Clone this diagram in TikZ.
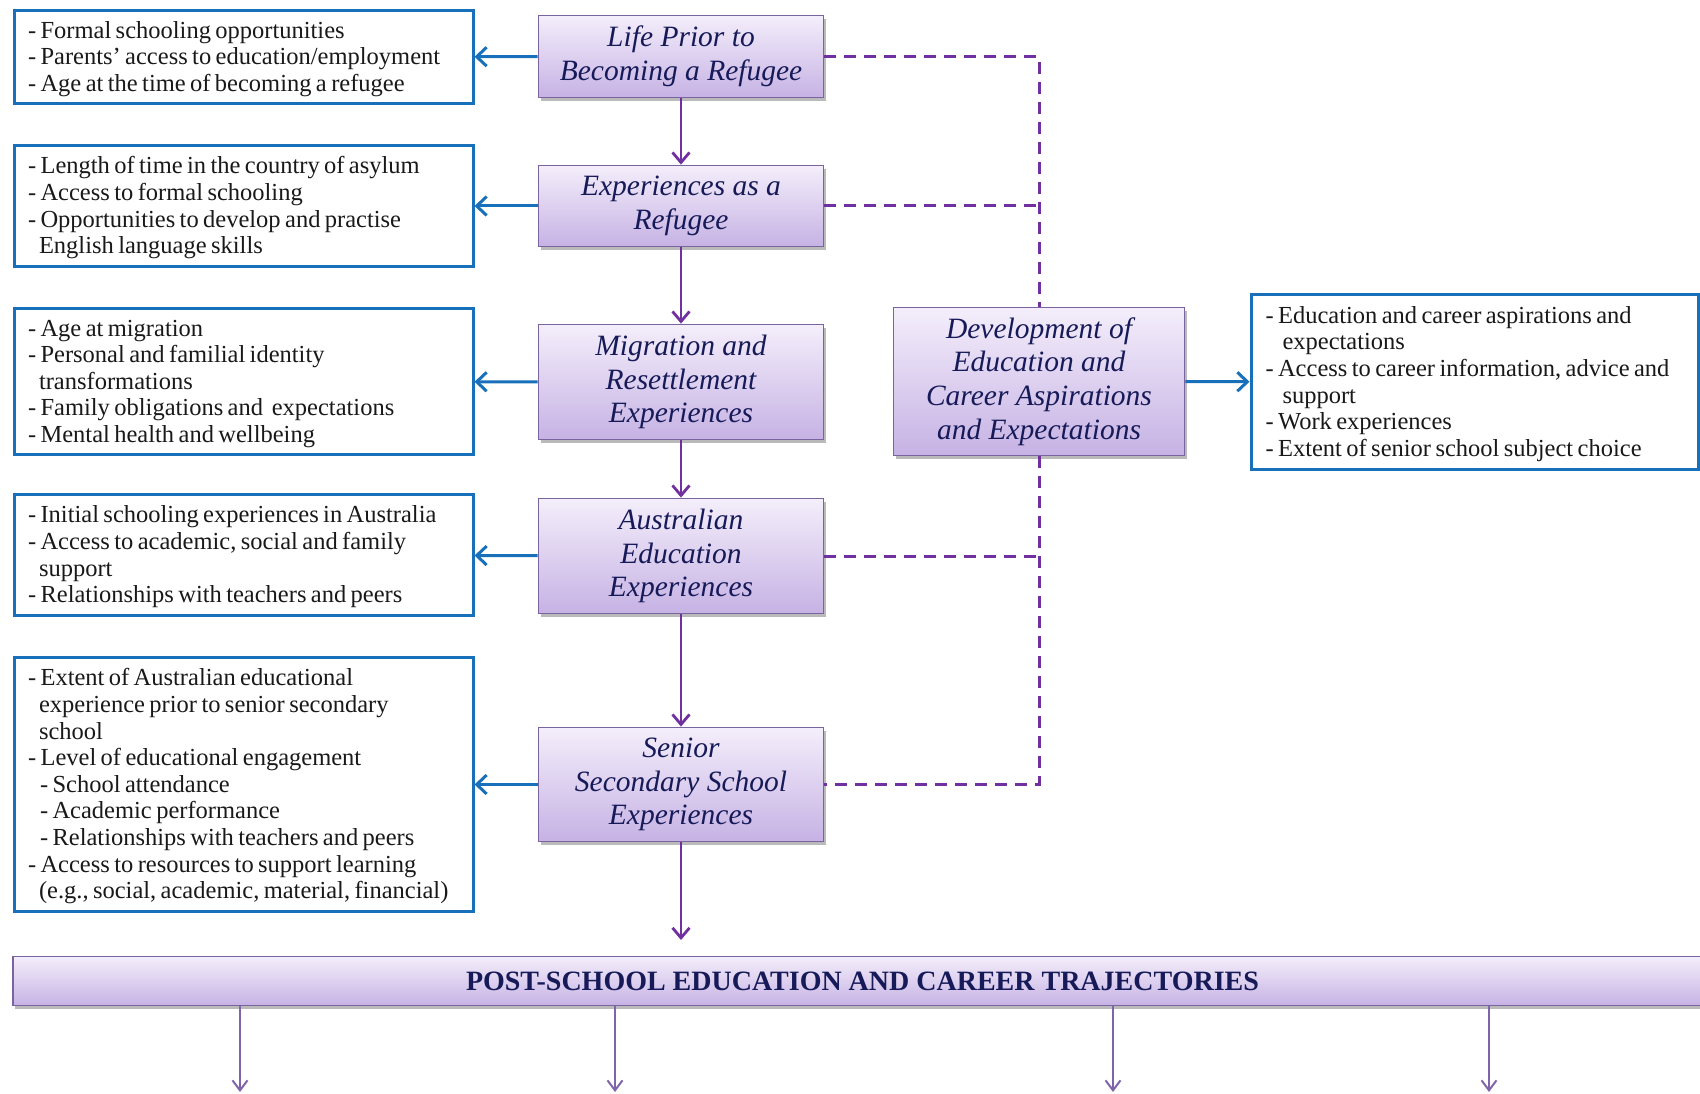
\documentclass[tikz,border=0pt]{standalone}
\usepackage{fontspec}
\setmainfont{Liberation Serif}
\usetikzlibrary{arrows.meta,shadows,calc}

\definecolor{boxblue}{RGB}{24,112,186}
\definecolor{linkpurple}{RGB}{112,48,160}
\definecolor{trajpurple}{RGB}{128,100,170}
\definecolor{stageborder}{RGB}{122,100,160}
\definecolor{stagetop}{RGB}{244,238,251}
\definecolor{stagebot}{RGB}{198,178,228}
\definecolor{stagetext}{RGB}{22,26,88}

\newcommand{\ind}{\hspace*{11pt}}
\newcommand{\sub}{\hspace*{12pt}}
\newcommand{\rind}{\hspace*{17pt}}
% one factor per line, never wrapped, with close word spacing
\newcommand{\factors}[1]{%
  \setlength{\spaceskip}{4.4pt plus 1pt minus 1pt}%
  \begin{tabular}{@{}l@{}}\noalign{\vskip 5pt}#1\end{tabular}}

\tikzset{
  factorbox/.style={draw=boxblue, line width=3pt, fill=white, align=left,
    inner xsep=14pt, inner ysep=0pt, text width=431pt, minimum width=459pt,
    font=\fontsize{24.5}{26.6}\selectfont, text=black!90},
  stagebox/.style={draw=stageborder, line width=1.8pt, top color=stagetop,
    bottom color=stagebot, align=center, inner sep=0pt,
    font=\fontsize{29.5}{33.6}\selectfont\itshape, text=stagetext,
    drop shadow={shadow xshift=2pt, shadow yshift=-3.5pt, opacity=0.45, fill=black!60}},
  stagearrow/.style={draw=linkpurple, line width=2.8pt,
    -{Straight Barb[length=10pt,width=17pt]}},
  factorarrow/.style={draw=boxblue, line width=3pt,
    -{Straight Barb[length=10pt,width=19pt]}},
  trajarrow/.style={draw=trajpurple, line width=2pt,
    -{Straight Barb[length=10pt,width=15pt]}},
  linkdash/.style={draw=linkpurple, line width=3pt, dash pattern=on 12pt off 8pt},
}

\begin{document}
\begin{tikzpicture}[x=1pt, y=-1pt]
\useasboundingbox (0,0) rectangle (1700,1094);

% factor boxes on the left
\node[factorbox, minimum height=93pt] (f1) at (243.5,57) {\factors{%
- Formal schooling opportunities\\
- Parents’ access to education/employment\\
- Age at the time of becoming a refugee}};
\node[factorbox, minimum height=121pt] (f2) at (243.5,206) {\factors{%
- Length of time in the country of asylum\\
- Access to formal schooling\\
- Opportunities to develop and practise\\
\ind English language skills}};
\node[factorbox, minimum height=146pt] (f3) at (243.5,381.5) {\factors{%
- Age at migration\\
- Personal and familial identity\\
\ind transformations\\
- Family obligations and\ \ expectations\\
- Mental health and wellbeing}};
\node[factorbox, minimum height=121pt] (f4) at (243.5,555) {\factors{%
- Initial schooling experiences in Australia\\
- Access to academic, social and family\\
\ind support\\
- Relationships with teachers and peers}};
\node[factorbox, minimum height=254pt] (f5) at (243.5,784.5) {\factors{%
- Extent of Australian educational\\
\ind experience prior to senior secondary\\
\ind school\\
- Level of educational engagement\\
\sub - School attendance\\
\sub - Academic performance\\
\sub - Relationships with teachers and peers\\
- Access to resources to support learning\\
\ind (e.g., social, academic, material, financial)}};

% stages
\node[stagebox, minimum width=285pt, minimum height=82pt] (s1) at (681,56.5)
  {Life Prior to\\Becoming a Refugee};
\node[stagebox, minimum width=285pt, minimum height=81pt] (s2) at (681,206)
  {Experiences as a\\Refugee};
\node[stagebox, minimum width=285pt, minimum height=115pt] (s3) at (681,382)
  {Migration and\\Resettlement\\Experiences};
\node[stagebox, minimum width=285pt, minimum height=115pt] (s4) at (681,556)
  {Australian\\Education\\Experiences};
\node[stagebox, minimum width=285pt, minimum height=114pt] (s5) at (681,784.5)
  {Senior\\Secondary School\\Experiences};
\node[stagebox, minimum width=291pt, minimum height=148pt] (dev) at (1039,381.5)
  {Development of\\Education and\\Career Aspirations\\and Expectations};

% aspirations box on the right
\node[factorbox, text width=418pt, minimum width=447pt, inner xsep=14.5pt,
  minimum height=175pt] (asp) at (1474.5,382) {\factors{%
- Education and career aspirations and\\
\rind expectations\\
- Access to career information, advice and\\
\rind support\\
- Work experiences\\
- Extent of senior school subject choice}};

% outcome bar
\node[stagebox, minimum width=1699pt, minimum height=49pt,
  font=\fontsize{28}{32}\selectfont\bfseries] (traj) at (862.5,981)
  {POST-SCHOOL EDUCATION AND CAREER TRAJECTORIES};

% dashed links between the stages and aspirations
\draw[linkdash] (s1.east) -| (dev.north);
\draw[linkdash] (s2.east) -- (s2.east -| dev.north);
\draw[linkdash] (s4.east) -- (s4.east -| dev.south);
\draw[linkdash] (dev.south) |- (s5.east);

% stage sequence
\draw[stagearrow] (s1) -- (s2);
\draw[stagearrow] (s2) -- (s3);
\draw[stagearrow] (s3) -- (s4);
\draw[stagearrow] (s4) -- (s5);
\coordinate (trajin) at (681,940);
\draw[stagearrow] (s5) -- (trajin);

% stage factors
\draw[factorarrow] (s1) -- (f1);
\draw[factorarrow] (s2) -- (f2);
\draw[factorarrow] (s3) -- (f3);
\draw[factorarrow] (s4) -- (f4);
\draw[factorarrow] (s5) -- (f5);
\draw[factorarrow] (dev) -- (asp);

% trajectories
\coordinate (t1) at (240,1092);
\coordinate (t2) at (615,1092);
\coordinate (t3) at (1113,1092);
\coordinate (t4) at (1489,1092);
\foreach \t in {t1,t2,t3,t4}
  \draw[trajarrow] (traj.south -| \t) -- (\t);
\end{tikzpicture}
\end{document}
